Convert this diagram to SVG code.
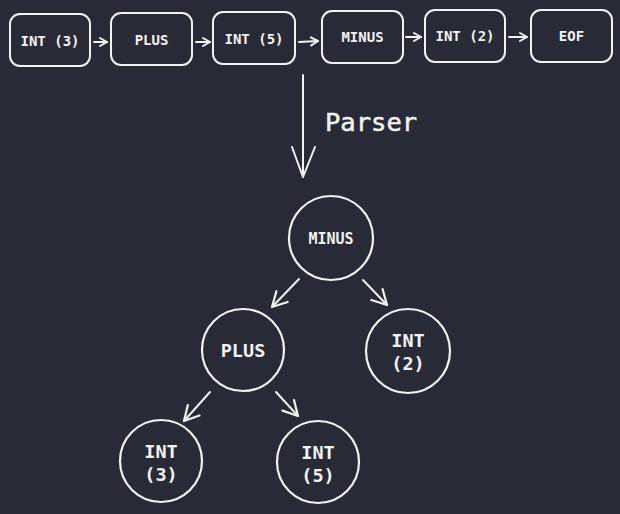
<svg xmlns="http://www.w3.org/2000/svg" width="620" height="514" viewBox="0 0 620 514">
<defs>
<style>
.bg{fill:#282a36}
.box{fill:none;stroke:#f2f2f2;stroke-width:2}
.node{fill:none;stroke:#f2f2f2;stroke-width:2.2}
.lbl{fill:#f2f2f2;font-family:"DejaVu Sans Mono","Liberation Mono",monospace;font-weight:bold;text-anchor:middle}
.t14{font-size:14px}
.t15{font-size:15px}
.t19{font-size:18.5px}
.edge{fill:none;stroke:#f2f2f2;stroke-width:2;stroke-linecap:round}
.head{fill:none;stroke:#f2f2f2;stroke-width:2;stroke-linecap:round;stroke-linejoin:round}
</style>
<marker id="sm" markerUnits="userSpaceOnUse" markerWidth="12" markerHeight="12" refX="9" refY="5" orient="auto" viewBox="0 0 12 10">
<path class="head" d="M2,1 L9,5 L2,9"/>
</marker>
<marker id="md" markerUnits="userSpaceOnUse" markerWidth="20" markerHeight="20" refX="15" refY="9" orient="auto" viewBox="0 0 18 18">
<path class="head" d="M2,2 L15,9 L2,16"/>
</marker>
</defs>
<rect class="bg" x="0" y="0" width="620" height="514"/>

<g id="tok-int3"><rect class="box" x="10" y="14" width="80" height="52" rx="10"/><text class="lbl t14" x="50" y="46">INT (3)</text></g>
<g id="tok-plus"><rect class="box" x="111" y="13" width="81" height="52" rx="10"/><text class="lbl t14" x="151.5" y="45">PLUS</text></g>
<g id="tok-int5"><rect class="box" x="213" y="12" width="82" height="52" rx="10"/><text class="lbl t14" x="254" y="44">INT (5)</text></g>
<g id="tok-minus"><rect class="box" x="322" y="11" width="81" height="52" rx="10"/><text class="lbl t14" x="362.5" y="42">MINUS</text></g>
<g id="tok-int2"><rect class="box" x="425" y="10" width="80" height="52" rx="10"/><text class="lbl t14" x="465" y="41">INT (2)</text></g>
<g id="tok-eof"><rect class="box" x="531" y="10" width="81" height="52" rx="10"/><text class="lbl t14" x="571.5" y="41">EOF</text></g>

<g id="parser-label"><text x="325" y="131" fill="#f2f2f2" stroke="#f2f2f2" stroke-width="0.5" font-family="DejaVu Sans Mono, Liberation Mono, monospace" font-size="25.5px">Parser</text></g>

<g id="ast-minus"><circle class="node" cx="331" cy="238" r="42"/><text class="lbl t15" x="331" y="244">MINUS</text></g>
<g id="ast-plus"><circle class="node" cx="243" cy="350" r="41"/><text class="lbl t19" x="243" y="357">PLUS</text></g>
<g id="ast-int2"><circle class="node" cx="408" cy="351" r="42"/><text class="lbl t19" x="408" y="347">INT</text><text class="lbl t19" x="408" y="370">(2)</text></g>
<g id="ast-int3"><circle class="node" cx="161" cy="461" r="41"/><text class="lbl t19" x="161" y="458">INT</text><text class="lbl t19" x="161" y="481">(3)</text></g>
<g id="ast-int5"><circle class="node" cx="318" cy="462" r="41"/><text class="lbl t19" x="318" y="459">INT</text><text class="lbl t19" x="318" y="482">(5)</text></g>

<g id="connectors">
<line class="edge" x1="94" y1="42" x2="107" y2="42" marker-end="url(#sm)"/>
<line class="edge" x1="196" y1="42" x2="210" y2="42" marker-end="url(#sm)"/>
<line class="edge" x1="299" y1="42" x2="318" y2="41" marker-end="url(#sm)"/>
<line class="edge" x1="406" y1="37" x2="421" y2="37" marker-end="url(#sm)"/>
<line class="edge" x1="509" y1="37" x2="527" y2="37" marker-end="url(#sm)"/>
<line class="edge" x1="303" y1="75" x2="303" y2="177" stroke-width="2.6"/>
<path class="head" d="M292,147 L303,177 L315,147" stroke-width="2.6"/>
<line class="edge" x1="299" y1="279" x2="272" y2="307" marker-end="url(#md)"/>
<line class="edge" x1="363" y1="280" x2="387" y2="305" marker-end="url(#md)"/>
<line class="edge" x1="210" y1="392" x2="184" y2="421" marker-end="url(#md)"/>
<line class="edge" x1="276" y1="392" x2="298" y2="416" marker-end="url(#md)"/>
</g>
</svg>
